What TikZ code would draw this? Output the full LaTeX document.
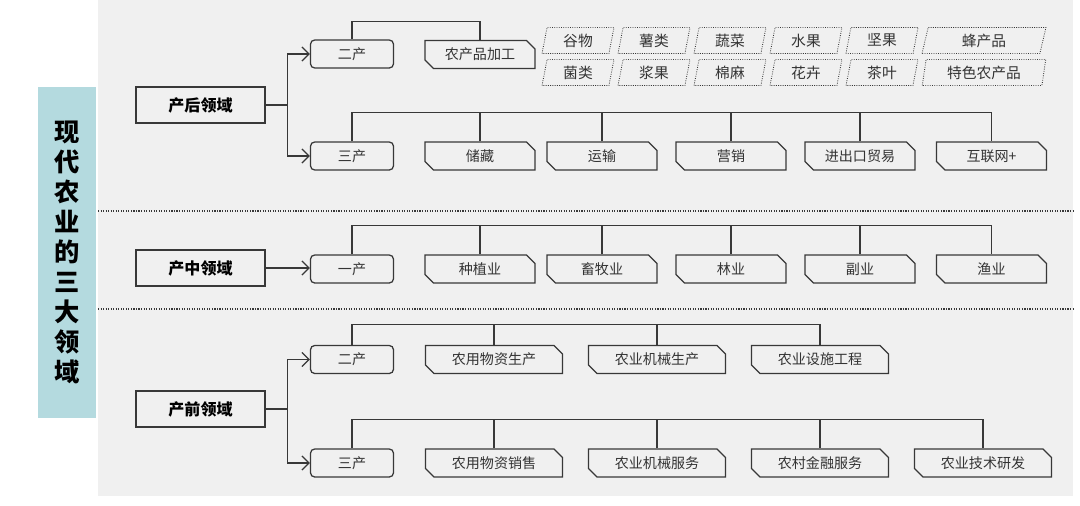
\documentclass[tikz,border=0pt]{standalone}
\usepackage{fontspec}
\setmainfont{Noto Sans CJK SC}
\usetikzlibrary{arrows.meta,shapes.misc,shapes.geometric}
\definecolor{panelgray}{HTML}{F0F0F0}
\definecolor{titleblue}{HTML}{B4DADF}
\definecolor{linegray}{HTML}{383838}
\tikzset{
  titlebox/.style={fill=titleblue,minimum width=1.45cm,minimum height=8.275cm,inner sep=0pt,
    align=center,font=\fontsize{18}{21.3}\selectfont\bfseries},
  domainbox/.style={draw=linegray,line width=0.9pt,minimum width=3.225cm,minimum height=0.9cm,
    inner sep=0pt,font=\fontsize{11.4}{13}\selectfont\bfseries},
  sectorbox/.style={draw=linegray,line width=0.9pt,rounded corners=3pt,minimum width=2.075cm,
    minimum height=0.7cm,inner sep=0pt,text=black!80,font=\fontsize{10}{12}\selectfont},
  tagbox/.style={chamfered rectangle,chamfered rectangle corners={north east,south west},
    chamfered rectangle xsep=3pt,chamfered rectangle ysep=3pt,draw=linegray,line width=0.9pt,
    minimum width=2.75cm,minimum height=0.7cm,inner sep=0pt,text=black!80,
    font=\fontsize{10}{12}\selectfont},
  widetagbox/.style={tagbox,minimum width=3.425cm},
  grainbox/.style={trapezium,trapezium left angle=80,trapezium right angle=100,
    trapezium stretches=true,draw=linegray,densely dotted,line width=0.6pt,
    minimum width=1.8cm,minimum height=0.65cm,inner sep=0pt,text=black!80,
    font=\fontsize{10.5}{12}\selectfont},
  widegrainbox/.style={grainbox,minimum width=3.1cm},
  branchline/.style={draw=linegray,line width=0.9pt,-{Straight Barb[length=5pt,width=10pt]}},
  linkline/.style={draw=linegray,line width=0.9pt},
  sepline/.style={draw=linegray,densely dotted,line width=0.8pt}
}
\begin{document}
\begin{tikzpicture}[x=0.025cm,y=-0.025cm]
  % canvas and grey panel
  \useasboundingbox (0,0) rectangle (1080,506);
  \fill[white] (0,0) rectangle (1080,506);
  \fill[panelgray] (98,0) rectangle (1073,496);
  % title column
  \node[titlebox] (title) at (67,252.5) {现\\代\\农\\业\\的\\三\\大\\领\\域};
  % section borders
  \draw[sepline] (98,211) -- (1073,211);
  \draw[sepline] (98,309) -- (1073,309);

  % post-production domain
  \node[domainbox] (hou) at (200.5,105) {产后领域};
  \node[sectorbox] (hou2) at (352,54) {二产};
  \node[sectorbox] (hou3) at (352,156) {三产};
  \draw[branchline] (hou.east) -- ++(22,0) |- (hou2.west);
  \draw[branchline] (hou.east) -- ++(22,0) |- (hou3.west);
  \node[tagbox] (jiagong) at (480,54.5) {农产品加工};
  \draw[linkline] (hou2.north) -- ++(0,-18) -| (jiagong.north);
  % processed products, two rows
  \node[grainbox] (guwu) at (578,40.5) {谷物};
  \node[grainbox] (shulei) at (654,40.5) {薯类};
  \node[grainbox] (shucai) at (730,40.5) {蔬菜};
  \node[grainbox] (shuiguo) at (806,40.5) {水果};
  \node[grainbox] (jianguo) at (882,40.5) {坚果};
  \node[widegrainbox] (fengchanpin) at (984,40.5) {蜂产品};
  \node[grainbox] (junlei) at (578,72.5) {菌类};
  \node[grainbox] (jiangguo) at (654,72.5) {浆果};
  \node[grainbox] (mianma) at (730,72.5) {棉麻};
  \node[grainbox] (huahui) at (806,72.5) {花卉};
  \node[grainbox] (chaye) at (882,72.5) {茶叶};
  \node[widegrainbox] (tese) at (984,72.5) {特色农产品};
  % services
  \node[tagbox] (chucang) at (480,156) {储藏};
  \node[tagbox] (yunshu) at (602,156) {运输};
  \node[tagbox] (yingxiao) at (731,156) {营销};
  \node[tagbox] (jinchukou) at (860,156) {进出口贸易};
  \node[tagbox] (hulianwang) at (991.5,156) {互联网+};
  \draw[linkline] (hou3.north) -- ++(0,-29) -| (hulianwang.north);
  \foreach \n in {chucang,yunshu,yingxiao,jinchukou}
    \draw[linkline] (\n.north) -- ++(0,-29);

  % production domain
  \node[domainbox] (zhong) at (200.5,268) {产中领域};
  \node[sectorbox] (zhong1) at (352,269) {一产};
  \draw[branchline] (zhong.east) -- (zhong.east -| zhong1.west);
  \node[tagbox] (zhongzhi) at (480,269) {种植业};
  \node[tagbox] (xumu) at (602,269) {畜牧业};
  \node[tagbox] (linye) at (731,269) {林业};
  \node[tagbox] (fuye) at (860,269) {副业};
  \node[tagbox] (yuye) at (991.5,269) {渔业};
  \draw[linkline] (zhong1.north) -- ++(0,-29) -| (yuye.north);
  \foreach \n in {zhongzhi,xumu,linye,fuye}
    \draw[linkline] (\n.north) -- ++(0,-29);

  % pre-production domain
  \node[domainbox] (qian) at (200.5,409) {产前领域};
  \node[sectorbox] (qian2) at (352,359.5) {二产};
  \node[sectorbox] (qian3) at (352,463) {三产};
  \draw[branchline] (qian.east) -- ++(22,0) |- (qian2.west);
  \draw[branchline] (qian.east) -- ++(22,0) |- (qian3.west);
  \node[widetagbox] (wzsc) at (494,359.5) {农用物资生产};
  \node[widetagbox] (jxsc) at (657,359.5) {农业机械生产};
  \node[widetagbox] (ssgc) at (820,359.5) {农业设施工程};
  \draw[linkline] (qian2.north) -- ++(0,-20) -| (ssgc.north);
  \foreach \n in {wzsc,jxsc}
    \draw[linkline] (\n.north) -- ++(0,-20);
  \node[widetagbox] (wzxs) at (494,463) {农用物资销售};
  \node[widetagbox] (jxfw) at (657,463) {农业机械服务};
  \node[widetagbox] (jrfw) at (820,463) {农村金融服务};
  \node[widetagbox] (jsyf) at (983,463) {农业技术研发};
  \draw[linkline] (qian3.north) -- ++(0,-29) -| (jsyf.north);
  \foreach \n in {wzxs,jxfw,jrfw}
    \draw[linkline] (\n.north) -- ++(0,-29);
\end{tikzpicture}
\end{document}
